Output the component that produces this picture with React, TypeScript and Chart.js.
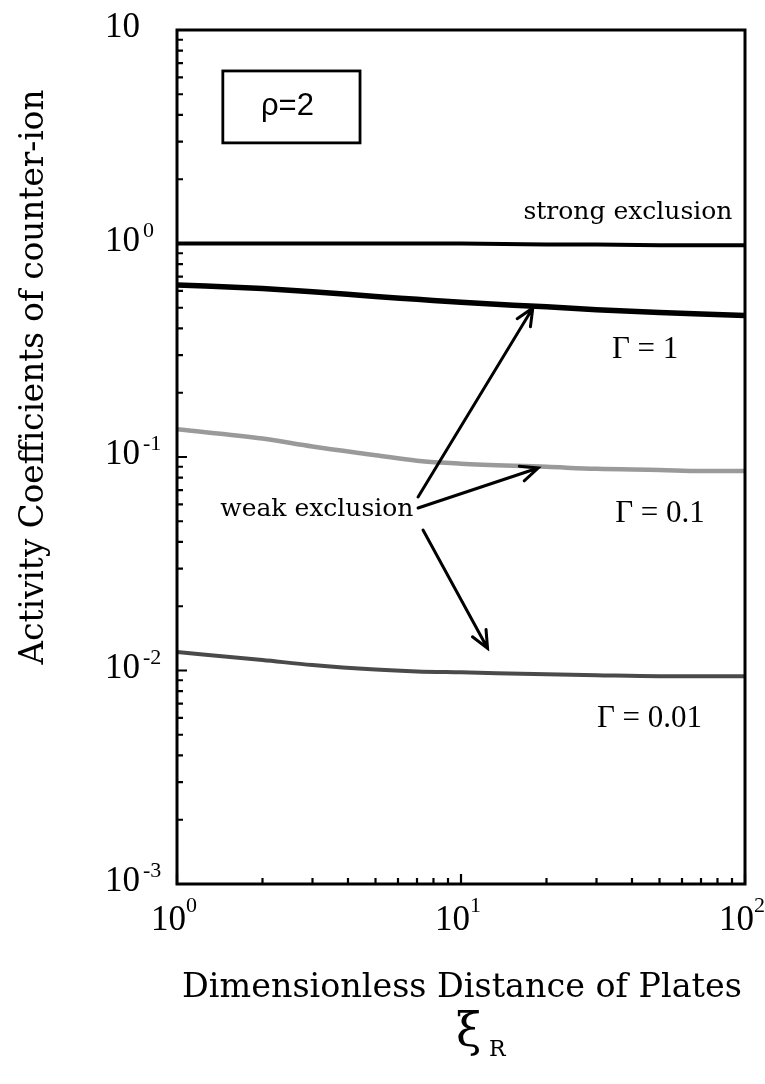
import React, { useEffect, useRef } from "react";
import { Chart, registerables } from "chart.js";

Chart.register(...registerables);

// ---- data ----
const xiValues = [1, 2, 3, 5, 7, 10, 20, 30, 50, 70, 100];
const strongExclusion = [1, 1, 1, 1, 1, 1, 0.99, 0.99, 0.98, 0.98, 0.98];
const gamma1 = [0.64, 0.615, 0.595, 0.565, 0.548, 0.53, 0.505, 0.49, 0.475, 0.467, 0.46];
const gamma01 = [0.135, 0.122, 0.112, 0.102, 0.096, 0.093, 0.09, 0.088, 0.087, 0.086, 0.086];
const gamma001 = [0.0122, 0.0112, 0.0106, 0.0101, 0.0099, 0.0098, 0.0096, 0.0095, 0.0094, 0.0094, 0.0094];

const xTickValues = [1, 10, 100];
const xTickExponents = ["0", "1", "2"];
const yTickValues = [10, 1, 0.1, 0.01, 0.001];
const yTickExponents = ["", "0", "-1", "-2", "-3"];

const xTitle = "Dimensionless Distance of Plates";
const yTitle = "Activity Coefficients of counter-ion";

// annotation anchors in data coordinates [xi, value]
const arrowTails = [
  [7.06, 0.065],
  [7.06, 0.0577],
  [7.35, 0.0455],
];
const arrowHeads = [
  [17.9, 0.499],
  [18.7, 0.0888],
  [12.4, 0.0127],
];
const labelTexts = ["strong exclusion", "Γ = 1", "Γ = 0.1", "Γ = 0.01", "weak exclusion"];
const labelAnchors = [
  [38.7, 1.4],
  [34, 0.317],
  [34.9, 0.054],
  [30.1, 0.00593],
  [1.42, 0.0565],
];
const rhoText = "ρ=2";
const rhoBoxCorners = [
  [1.45, 6.43],
  [4.41, 2.96],
];

function minorValues(lo: number, hi: number) {
  const out: number[] = [];
  for (let d = lo; d < hi * 0.999; d *= 10) {
    for (let m = 2; m <= 9; m++) out.push(d * m);
  }
  return out;
}

function fitFont(ctx: CanvasRenderingContext2D, text: string, family: string, width: number) {
  ctx.font = `40px ${family}`;
  const w = ctx.measureText(text).width;
  return `${(40 * width) / w}px ${family}`;
}

const decorPlugin = {
  id: "decor",
  afterDatasetsDraw(chart: any) {
    const { ctx, chartArea: a, scales } = chart;
    const xs = scales.x;
    const ys = scales.y;
    const px = (v: number) => xs.getPixelForValue(v);
    const py = (v: number) => ys.getPixelForValue(v);
    ctx.save();
    ctx.fillStyle = "#000";
    ctx.strokeStyle = "#000";

    // frame
    ctx.lineWidth = 3;
    ctx.strokeRect(a.left, a.top, a.right - a.left, a.bottom - a.top);

    // ticks (inward)
    ctx.lineWidth = 2.2;
    ctx.beginPath();
    for (const v of yTickValues) {
      const y = py(v);
      ctx.moveTo(a.left, y);
      ctx.lineTo(a.left + 10, y);
    }
    for (const v of minorValues(0.001, 10)) {
      const y = py(v);
      ctx.moveTo(a.left, y);
      ctx.lineTo(a.left + 6, y);
    }
    for (const v of xTickValues) {
      const x = px(v);
      ctx.moveTo(x, a.bottom);
      ctx.lineTo(x, a.bottom - 10);
    }
    for (const v of minorValues(1, 100)) {
      const x = px(v);
      ctx.moveTo(x, a.bottom);
      ctx.lineTo(x, a.bottom - 6);
    }
    ctx.stroke();

    // y tick labels
    yTickValues.forEach((v, i) => {
      const y = py(v);
      ctx.font = "35px 'Liberation Serif'";
      ctx.textAlign = "right";
      ctx.textBaseline = "alphabetic";
      ctx.fillText("10", a.left - 37, y + 7);
      if (yTickExponents[i]) {
        ctx.font = "22px 'Liberation Serif'";
        ctx.textAlign = "left";
        ctx.fillText(yTickExponents[i], a.left - 34, y - 7);
      }
    });

    // x tick labels
    xTickValues.forEach((v, i) => {
      const x = px(v);
      ctx.font = "35px 'Liberation Serif'";
      const w1 = ctx.measureText("10").width;
      ctx.font = "22px 'Liberation Serif'";
      const w2 = ctx.measureText(xTickExponents[i]).width;
      const start = x - 3 - (w1 + w2) / 2;
      ctx.textAlign = "left";
      ctx.textBaseline = "alphabetic";
      ctx.font = "35px 'Liberation Serif'";
      ctx.fillText("10", start, a.bottom + 46);
      ctx.font = "22px 'Liberation Serif'";
      ctx.fillText(xTickExponents[i], start + w1, a.bottom + 28);
    });

    // axis titles
    ctx.font = fitFont(ctx, xTitle, "'DejaVu Serif'", 560);
    ctx.textAlign = "center";
    ctx.textBaseline = "alphabetic";
    ctx.fillText(xTitle, 462, a.bottom + 113);

    ctx.font = "46px 'DejaVu Serif'";
    ctx.textAlign = "left";
    ctx.fillText("ξ", 456, a.bottom + 162);
    ctx.font = "22px 'DejaVu Serif'";
    ctx.fillText("R", 489, a.bottom + 172);

    ctx.save();
    ctx.translate(43, 377);
    ctx.rotate(-Math.PI / 2);
    ctx.font = fitFont(ctx, yTitle, "'DejaVu Serif'", 575);
    ctx.textAlign = "center";
    ctx.fillText(yTitle, 0, 0);
    ctx.restore();

    // annotation labels
    labelTexts.forEach((t, i) => {
      const [xv, yv] = labelAnchors[i];
      const isGamma = t.startsWith("Γ");
      ctx.font = isGamma ? "31px 'Liberation Serif'" : "25px 'DejaVu Serif'";
      ctx.textAlign = i === 0 ? "center" : "left";
      ctx.textBaseline = "middle";
      ctx.fillText(t, px(xv), py(yv));
    });

    // rho box
    const bx0 = px(rhoBoxCorners[0][0]);
    const by0 = py(rhoBoxCorners[0][1]);
    const bx1 = px(rhoBoxCorners[1][0]);
    const by1 = py(rhoBoxCorners[1][1]);
    ctx.lineWidth = 2.8;
    ctx.strokeRect(bx0, by0, bx1 - bx0, by1 - by0);
    ctx.font = "31px 'Liberation Sans'";
    ctx.textAlign = "center";
    ctx.textBaseline = "middle";
    ctx.fillText(rhoText, (bx0 + bx1) / 2 - 4, (by0 + by1) / 2);

    // arrows
    ctx.lineWidth = 3;
    ctx.lineCap = "round";
    arrowTails.forEach((tail, i) => {
      const head = arrowHeads[i];
      const x0 = px(tail[0]);
      const y0 = py(tail[1]);
      const x1 = px(head[0]);
      const y1 = py(head[1]);
      const ang = Math.atan2(y1 - y0, x1 - x0);
      ctx.beginPath();
      ctx.moveTo(x0, y0);
      ctx.lineTo(x1, y1);
      const hl = 19;
      const spread = 0.42;
      ctx.moveTo(x1 - hl * Math.cos(ang - spread), y1 - hl * Math.sin(ang - spread));
      ctx.lineTo(x1, y1);
      ctx.lineTo(x1 - hl * Math.cos(ang + spread), y1 - hl * Math.sin(ang + spread));
      ctx.stroke();
    });

    ctx.restore();
  },
};

export default function App() {
  const canvasRef = useRef<HTMLCanvasElement | null>(null);

  useEffect(() => {
    const canvas = canvasRef.current;
    if (!canvas) return;
    const mk = (ys: number[]) => xiValues.map((x, i) => ({ x, y: ys[i] }));
    const chart = new Chart(canvas, {
      type: "line",
      data: {
        datasets: [
          { data: mk(strongExclusion), borderColor: "#000", borderWidth: 4, pointRadius: 0, tension: 0 },
          { data: mk(gamma1), borderColor: "#000", borderWidth: 5.5, pointRadius: 0, cubicInterpolationMode: "monotone" },
          { data: mk(gamma01), borderColor: "#9a9a9a", borderWidth: 4.5, pointRadius: 0, cubicInterpolationMode: "monotone" },
          { data: mk(gamma001), borderColor: "#4a4a4a", borderWidth: 4, pointRadius: 0, cubicInterpolationMode: "monotone" },
        ],
      },
      options: {
        responsive: false,
        animation: false,
        events: [],
        layout: { padding: { left: 177, right: 20, top: 30, bottom: 200 } },
        plugins: { legend: { display: false }, tooltip: { enabled: false } },
        scales: {
          x: { type: "logarithmic", min: 1, max: 100, display: false },
          y: { type: "logarithmic", min: 0.001, max: 10, display: false },
        },
      },
      plugins: [decorPlugin],
    } as any);
    return () => chart.destroy();
  }, []);

  return (
    <div style={{ position: "absolute", left: 0, top: 0, width: 765, height: 1084, background: "#fff" }}>
      <canvas ref={canvasRef} width={765} height={1084} style={{ display: "block" }} />
    </div>
  );
}
